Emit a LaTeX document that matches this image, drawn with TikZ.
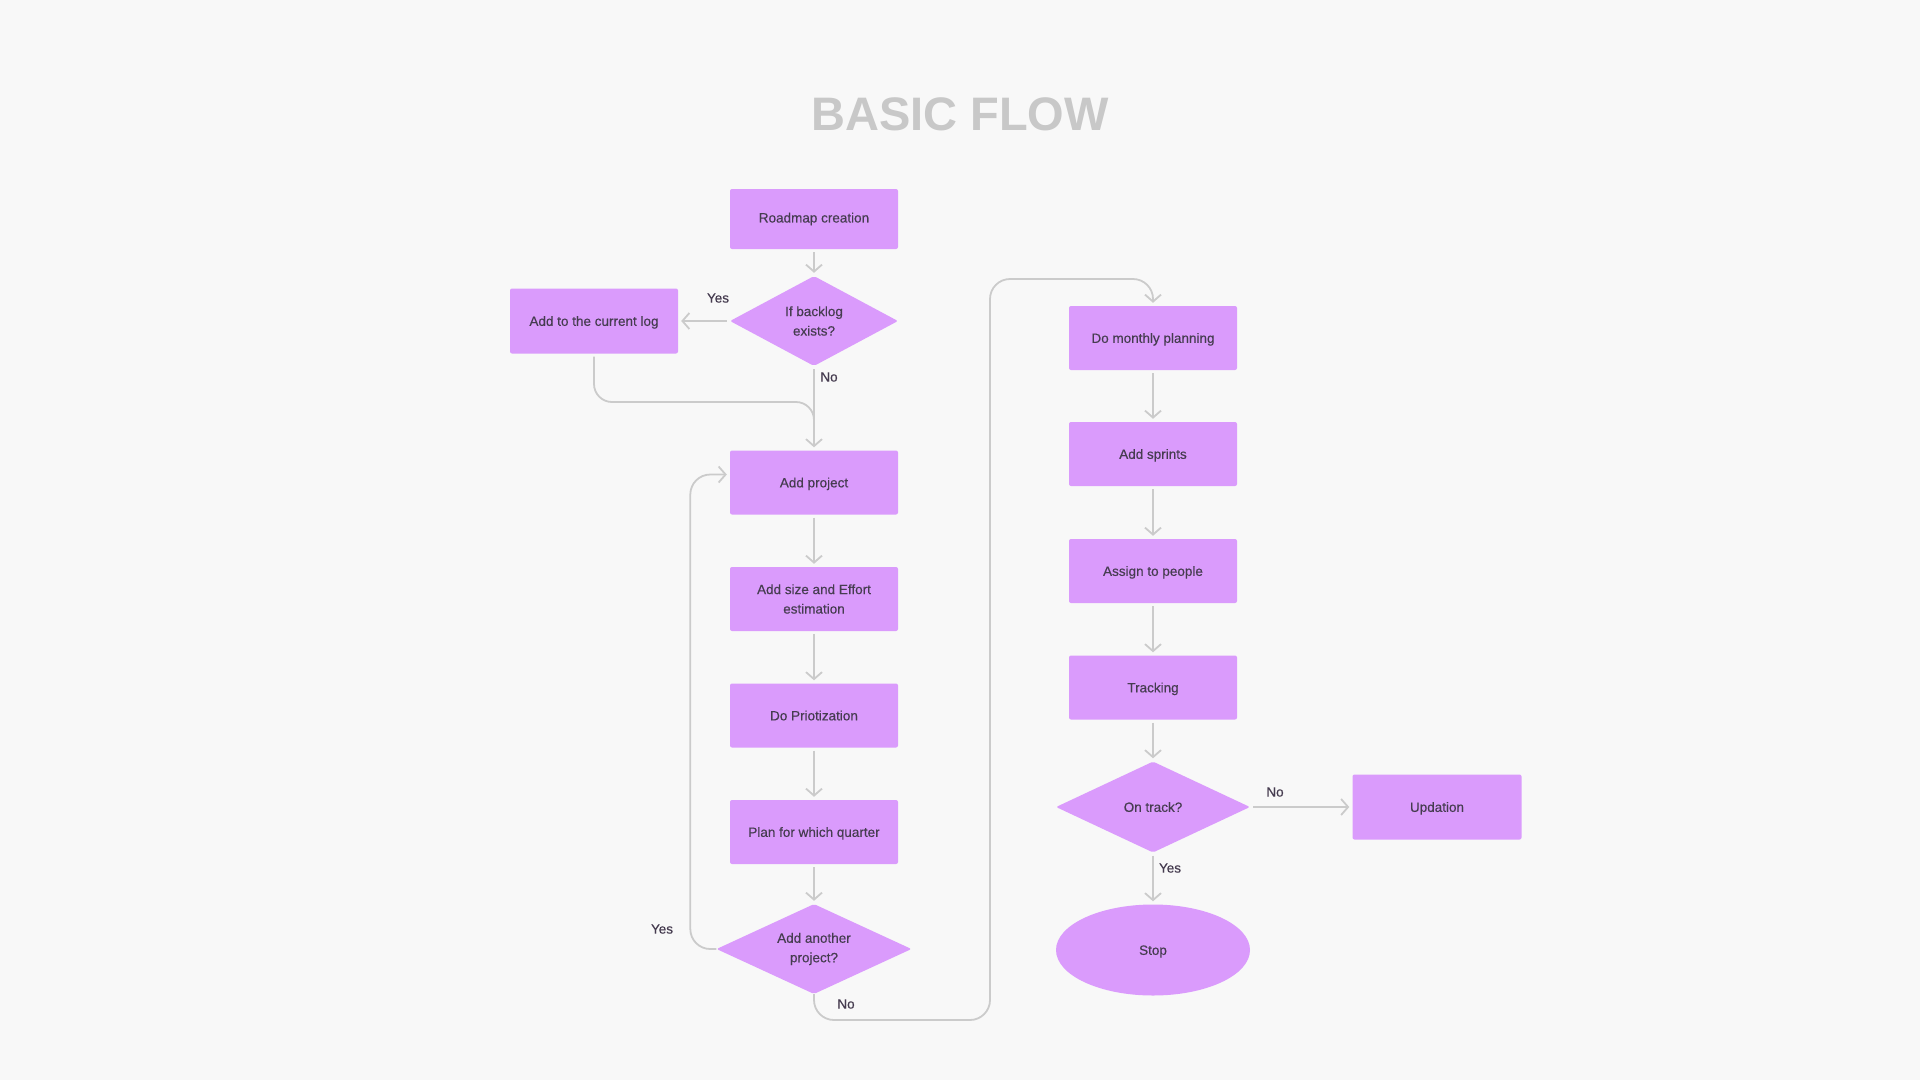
\documentclass[tikz,border=0pt]{standalone}
\usepackage{fontspec}
\setmainfont{Liberation Sans}
\newfontfamily\medfont[FakeBold=0.35]{Liberation Sans}
\usetikzlibrary{shapes.geometric,arrows.meta}
\definecolor{bg}{HTML}{F8F8F8}
\definecolor{boxfill}{HTML}{DA9BFC}
\definecolor{linec}{HTML}{CBCBCB}
\definecolor{txt}{HTML}{463C50}
\definecolor{titlec}{HTML}{C8C8C8}
\tikzset{
  base/.style={fill=boxfill, text=txt, inner sep=0pt, align=center,
    font=\medfont\fontsize{13.5}{19.5}\selectfont},
  oneline/.style={text height=9.7pt, text depth=0pt},
  procbox/.style={base, rectangle, rounded corners=2pt, minimum width=168pt, minimum height=64pt},
  decbox/.style={base, diamond, rounded corners=2pt, minimum width=#1, minimum height=90pt, shape aspect=2},
  endbox/.style={base, ellipse, minimum width=194pt, minimum height=91pt},
  conn/.style={draw=linec, line width=1.8pt, -{Straight Barb[length=7pt,width=16pt,line width=1.8pt]}},
  plain/.style={draw=linec, line width=1.8pt},
  lbl/.style={text=txt, font=\medfont\fontsize{13.5}{16}\selectfont, inner sep=0pt}
}
\begin{document}
\begin{tikzpicture}[x=1pt,y=-1pt]
\path[fill=bg] (0,0) rectangle (1920,1080);
\node[text=titlec, font=\fontsize{47}{50}\selectfont\bfseries, inner sep=0pt] (title) at (960,114) {BASIC FLOW};

% left column
\node[procbox, minimum height=60pt] (rc) at (814,219) {Roadmap creation};
\node[decbox=168pt] (bl) at (814,321) {If backlog\\exists?};
\node[procbox, oneline, minimum height=65pt] (log) at (594,321) {Add to the current log};
\node[procbox, oneline, minimum height=64pt] (ap) at (814,482.5) {Add project};
\node[procbox] (se) at (814,599) {Add size and Effort\\estimation};
\node[procbox, oneline] (dp) at (814,715.5) {Do Priotization};
\node[procbox, oneline] (pq) at (814,832) {Plan for which quarter};
\node[decbox=195pt] (an) at (814,949) {Add another\\project?};

% right column
\node[procbox, oneline] (mp) at (1153,338) {Do monthly planning};
\node[procbox, oneline] (as) at (1153,454) {Add sprints};
\node[procbox, oneline] (ag) at (1153,571) {Assign to people};
\node[procbox, oneline] (tr) at (1153,687.5) {Tracking};
\node[decbox=194pt, oneline, minimum height=91pt] (ot) at (1153,807) {On track?};
\node[procbox, oneline, minimum width=169pt, minimum height=65pt] (up) at (1437,807) {Updation};
\node[endbox, oneline] (st) at (1153,950) {Stop};

% connectors
\draw[conn] ([yshift=-3pt]rc.south) -- ([yshift=3pt]bl.north);
\draw[conn] ([xshift=-3pt]bl.west) -- ([xshift=3pt]log.east);
\node[lbl] (lyes1) at (718,298) {Yes};
\draw[conn] ([yshift=-3pt]bl.south) -- ([yshift=3pt]ap.north);
\node[lbl] (lno1) at (829,377) {No};
\coordinate (merge) at (814,440);
\draw[plain, rounded corners=18pt] ([yshift=-3pt]log.south) |- (merge |- 0,402) -- (merge);

\draw[conn] ([yshift=-3pt]ap.south) -- ([yshift=3pt]se.north);
\draw[conn] ([yshift=-3pt]se.south) -- ([yshift=3pt]dp.north);
\draw[conn] ([yshift=-3pt]dp.south) -- ([yshift=3pt]pq.north);
\draw[conn] ([yshift=-3pt]pq.south) -- ([yshift=3pt]an.north);

\coordinate (yin) at ([xshift=-3pt,yshift=8pt]ap.west);
\draw[conn, rounded corners=20pt] (an.west) -- ++(-26,0) |- (yin);
\node[lbl] (lyes2) at (662,929) {Yes};

\coordinate (nturn) at (990,1020);
\coordinate (ntop) at (990,279);
\draw[conn, rounded corners=20pt] (an.south) |- (nturn) -- (ntop) -| ([yshift=3pt]mp.north);
\node[lbl] (lno2) at (846,1004) {No};

\draw[conn] ([yshift=-3pt]mp.south) -- ([yshift=3pt]as.north);
\draw[conn] ([yshift=-3pt]as.south) -- ([yshift=3pt]ag.north);
\draw[conn] ([yshift=-3pt]ag.south) -- ([yshift=3pt]tr.north);
\draw[conn] ([yshift=-3pt]tr.south) -- ([yshift=3pt]ot.north);
\draw[conn] ([xshift=3pt]ot.east) -- ([xshift=-3pt]up.west);
\node[lbl] (lno3) at (1275,792) {No};
\draw[conn] ([yshift=-3pt]ot.south) -- ([yshift=3pt]st.north);
\node[lbl] (lyes3) at (1170,868) {Yes};
\end{tikzpicture}
\end{document}
